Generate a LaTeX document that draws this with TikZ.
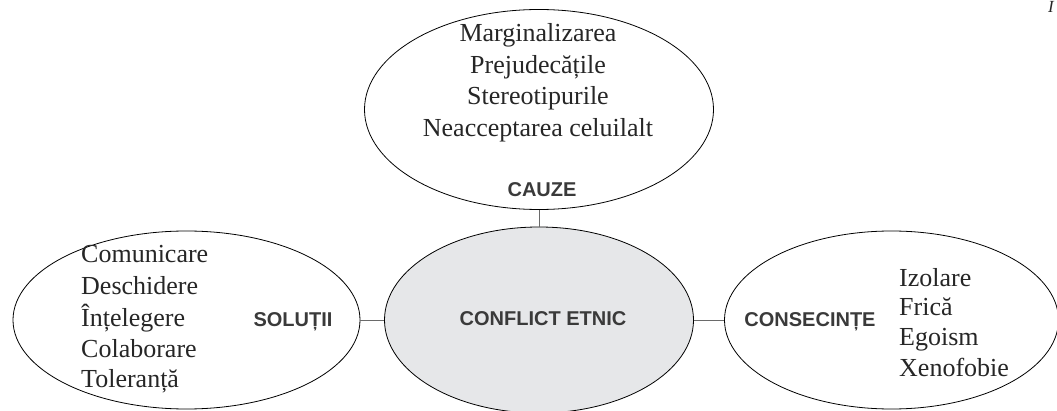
\documentclass[tikz,border=0pt]{standalone}
\usepackage{fontspec}
\setmainfont{Liberation Serif}
\setsansfont{Liberation Sans}
\usetikzlibrary{shapes.geometric}
\definecolor{labelgray}{HTML}{3A3A3A}
\definecolor{linegray}{HTML}{6A6A6A}
\definecolor{centerfill}{HTML}{E6E7E9}
\tikzset{
  bubble/.style={ellipse, draw=black, line width=0.8pt, inner sep=0pt},
  item/.style={font=\fontsize{26}{32}\selectfont, text=black!85, inner sep=0pt},
  heading/.style={font=\fontsize{20}{24}\selectfont\sffamily\bfseries, text=labelgray, inner sep=0pt},
  link/.style={draw=linegray, line width=0.9pt}
}
\begin{document}
\begin{tikzpicture}[x=1pt,y=-1pt]
\useasboundingbox (0,0) rectangle (1057,411);
\clip (0,0) rectangle (1057,411);
% ellipses
\node[bubble, minimum width=349pt, minimum height=200pt] (cauze) at (539,109.5) {};
\node[bubble, fill=centerfill, minimum width=309pt, minimum height=186pt] (conflict) at (539,320) {};
\node[bubble, minimum width=347pt, minimum height=178pt] (solutii) at (186.5,320) {};
\node[bubble, minimum width=334pt, minimum height=178pt] (consecinte) at (891.5,320) {};
% connectors
\draw[link] (cauze.south) -- (conflict.north);
\draw[link] (solutii.east) -- (conflict.west);
\draw[link] (conflict.east) -- (consecinte.west);
% headings
\node[heading, anchor=base] (hcauze) at (542,197) {CAUZE};
\node[heading, anchor=base] (hconflict) at (543,326) {CONFLICT ETNIC};
\node[heading, anchor=base] (hsolutii) at (293,327) {SOLUȚII};
\node[heading, anchor=base] (hconsecinte) at (810,327) {CONSECINȚE};
% top list
\node[item, anchor=base] (c1) at (538,42) {Marginalizarea};
\node[item, anchor=base] (c2) at (538,73.5) {Prejudecățile};
\node[item, anchor=base] (c3) at (538,105) {Stereotipurile};
\node[item, anchor=base] (c4) at (538,136.5) {Neacceptarea celuilalt};
% left list
\node[item, anchor=base west] (s1) at (81,263) {Comunicare};
\node[item, anchor=base west] (s2) at (81,295) {Deschidere};
\node[item, anchor=base west] (s3) at (81,327) {Înțelegere};
\node[item, anchor=base west] (s4) at (81,358) {Colaborare};
\node[item, anchor=base west] (s5) at (81,388) {Toleranță};
% right list
\node[item, anchor=base west] (r1) at (899,287) {Izolare};
\node[item, anchor=base west] (r2) at (899,316) {Frică};
\node[item, anchor=base west] (r3) at (899,346) {Egoism};
\node[item, anchor=base west] (r4) at (899,376) {Xenofobie};
% partial page mark top right
\node[item, anchor=base, font=\fontsize{17}{20}\selectfont\itshape] (mark) at (1051,13) {I};
\end{tikzpicture}
\end{document}
